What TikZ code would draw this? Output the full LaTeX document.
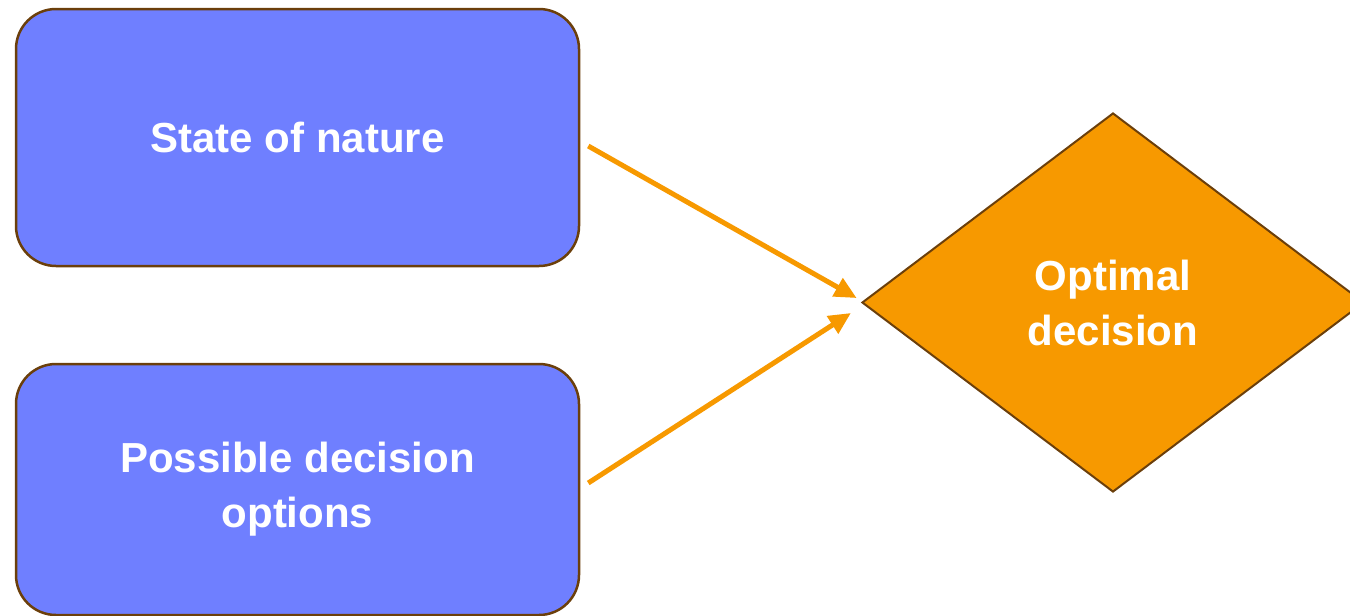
\documentclass[tikz,border=0pt]{standalone}
\usepackage{fontspec}
\setsansfont{Liberation Sans}
\usetikzlibrary{shapes.geometric,arrows.meta,calc}
\definecolor{boxblue}{HTML}{6F7FFF}
\definecolor{edgebrown}{HTML}{6B3F0B}
\definecolor{decorange}{HTML}{F79900}
\tikzset{
  inputbox/.style={draw=edgebrown, line width=2.5pt, fill=boxblue, rounded corners=40pt,
    minimum width=563pt, minimum height=257pt, inner sep=0pt, align=center,
    text=white, font=\sffamily\bfseries\fontsize{42}{55}\selectfont},
  decisionnode/.style={draw=edgebrown, line width=2pt, fill=decorange, shape=diamond,
    minimum width=502pt, minimum height=379pt, inner sep=0pt, align=center,
    text=white, font=\sffamily\bfseries\fontsize{42}{55}\selectfont},
  flow/.style={draw=decorange, line width=5pt, -{Triangle[length=22pt,width=20pt]}}
}
\begin{document}
\begin{tikzpicture}[x=1pt,y=-1pt]
  \useasboundingbox (0,0) rectangle (1350,616);
  \clip (0,0) rectangle (1350,616);
  % inputs on the left
  \node[inputbox] (nature) at (297.5,137.5) {State of nature};
  \node[inputbox, minimum height=251pt] (options) at (297.5,489.5) {Possible decision\\options};
  % the decision
  \node[decisionnode] (decision) at (1113,302.5) {Optimal\\decision};
  % flows into the decision
  \draw[flow, shorten >=5pt] ($(nature.east)+(8,8.5)$) -- ($(decision.west)+(0,-2)$);
  \draw[flow, shorten >=12pt] ($(options.east)+(8,-6.5)$) -- ($(decision.west)+(0,4)$);
\end{tikzpicture}
\end{document}
